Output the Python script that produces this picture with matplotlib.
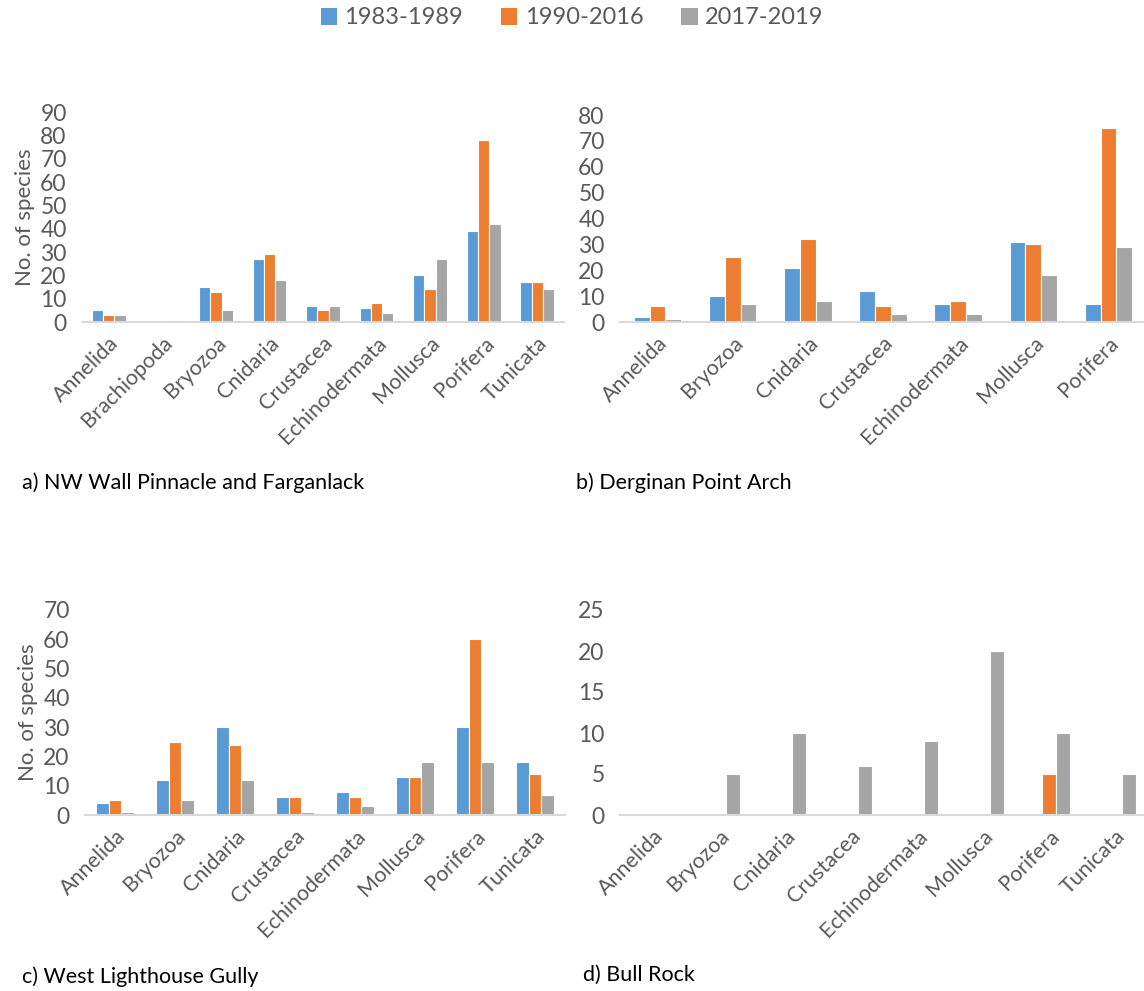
import numpy as np
import matplotlib
matplotlib.use("Agg")
import matplotlib.pyplot as plt
from matplotlib.patches import Patch

plt.rcParams['font.family'] = ['Lato', 'DejaVu Sans']

periods = ["1983-1989", "1990-2016", "2017-2019"]
colours = ["#5B9BD5", "#ED7D31", "#A5A5A5"]
txt = "#595959"

# a) NW Wall Pinnacle and Farganlack
cats_a = ["Annelida", "Brachiopoda", "Bryozoa", "Cnidaria", "Crustacea",
          "Echinodermata", "Mollusca", "Porifera", "Tunicata"]
a_1983 = [5, 0, 15, 27, 7, 6, 20, 39, 17]
a_1990 = [3, 0, 13, 29, 5, 8, 14, 78, 17]
a_2017 = [3, 1, 5, 18, 7, 4, 27, 42, 14]

# b) Derginan Point Arch
cats_b = ["Annelida", "Bryozoa", "Cnidaria", "Crustacea",
          "Echinodermata", "Mollusca", "Porifera"]
b_1983 = [2, 10, 21, 12, 7, 31, 7]
b_1990 = [6, 25, 32, 6, 8, 30, 75]
b_2017 = [1, 7, 8, 3, 3, 18, 29]

# c) West Lighthouse Gully
cats_c = ["Annelida", "Bryozoa", "Cnidaria", "Crustacea",
          "Echinodermata", "Mollusca", "Porifera", "Tunicata"]
c_1983 = [4, 12, 30, 6, 8, 13, 30, 18]
c_1990 = [5, 25, 24, 6, 6, 13, 60, 14]
c_2017 = [1, 5, 12, 1, 3, 18, 18, 7]

# d) Bull Rock
cats_d = ["Annelida", "Bryozoa", "Cnidaria", "Crustacea",
          "Echinodermata", "Mollusca", "Porifera", "Tunicata"]
d_1983 = [0, 0, 0, 0, 0, 0, 0, 0]
d_1990 = [0, 0, 0, 0, 0, 0, 5, 0]
d_2017 = [0, 5, 10, 6, 9, 20, 10, 5]

W, H = 1144, 991
fig = plt.figure(figsize=(W / 100, H / 100), dpi=100)


def px_axes(left, right, bottom, top):
    return fig.add_axes([left / W, 1 - bottom / H, (right - left) / W, (bottom - top) / H])


def panel(ax, cats, series, ymax, step, caption, cap_xy, ylabel=True):
    x = np.arange(len(cats))
    slot = 0.21
    for k, vals in enumerate(series):
        ax.bar(x + (k - 1) * slot, vals, width=slot, color=colours[k],
               edgecolor="white", linewidth=0.8, zorder=2)
    ax.set_xlim(-0.5, len(cats) - 0.5)
    ax.set_ylim(0, ymax)
    ax.set_yticks(np.arange(0, ymax + 1, step))
    ax.set_xticks(x)
    ax.set_xticklabels(cats, rotation=45, ha="right", rotation_mode="anchor",
                       fontsize=15.5, color=txt)
    ax.tick_params(axis="y", length=0, labelsize=16.5, labelcolor=txt, pad=11)
    ax.tick_params(axis="x", length=0, pad=8)
    for s in ["top", "right", "left"]:
        ax.spines[s].set_visible(False)
    ax.spines["bottom"].set_color("#D9D9D9")
    ax.spines["bottom"].set_linewidth(1.5)
    ax.patch.set_alpha(0)
    if ylabel:
        ax.set_ylabel("No. of species", fontsize=16, color=txt, labelpad=4)
    fig.text(cap_xy[0] / W, 1 - cap_xy[1] / H, caption, fontsize=15.5,
             color="black", va="center", ha="left")


ax_a = px_axes(82, 564, 322, 112)
panel(ax_a, cats_a, [a_1983, a_1990, a_2017], 90, 10,
      "a) NW Wall Pinnacle and Farganlack", (22, 483))

ax_b = px_axes(620, 1146, 322, 115)
panel(ax_b, cats_b, [b_1983, b_1990, b_2017], 80, 10,
      "b) Derginan Point Arch", (576, 483), ylabel=False)

ax_c = px_axes(85, 565, 815, 610)
panel(ax_c, cats_c, [c_1983, c_1990, c_2017], 70, 10,
      "c) West Lighthouse Gully", (22, 977))

ax_d = px_axes(620, 1148, 815, 610)
panel(ax_d, cats_d, [d_1983, d_1990, d_2017], 25, 5,
      "d) Bull Rock", (583, 975), ylabel=False)

handles = [Patch(facecolor=c, label=p) for c, p in zip(colours, periods)]
fig.legend(handles=handles, loc="center", bbox_to_anchor=(0.5, 1 - 18 / H),
           ncol=3, frameon=False, fontsize=17, labelcolor=txt,
           handlelength=0.7, handleheight=0.7, handletextpad=0.3, columnspacing=1.6)

fig.savefig("out.png", dpi=100)
